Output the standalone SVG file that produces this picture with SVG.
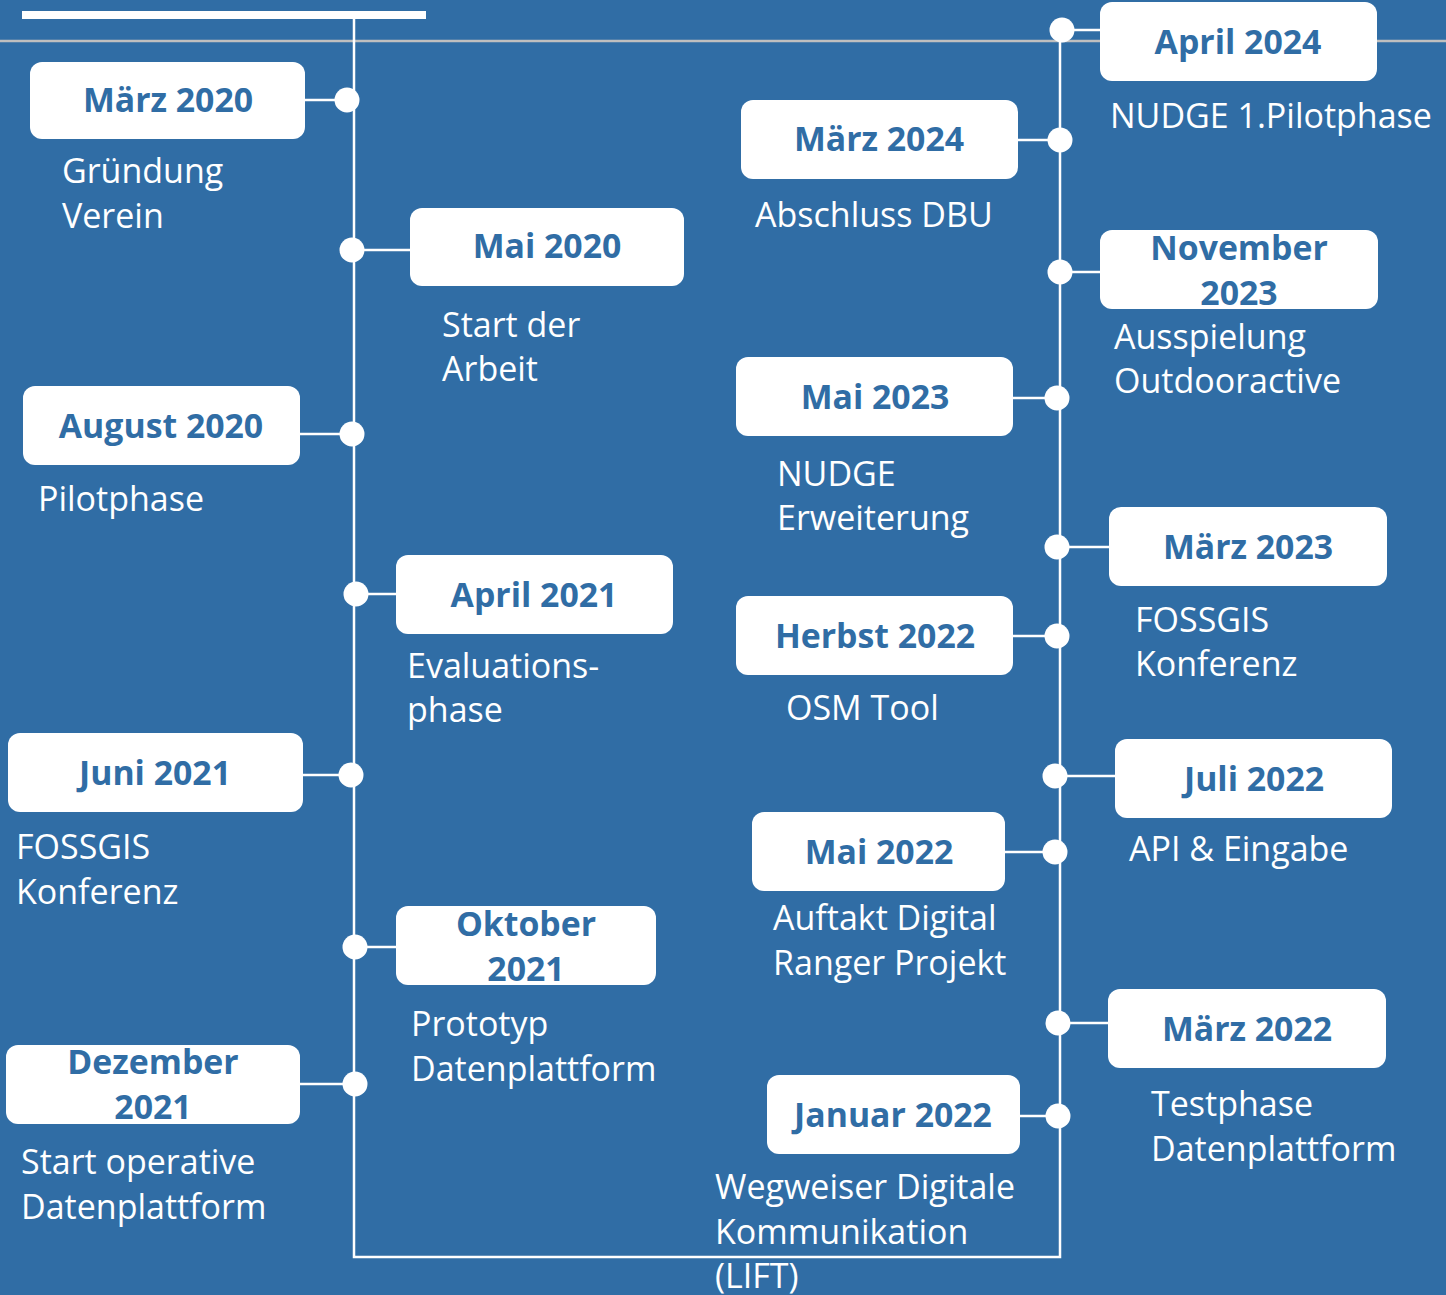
<svg xmlns="http://www.w3.org/2000/svg" width="1446" height="1295" viewBox="0 0 1446 1295">
<style>
.bg{fill:#306DA5}
.box{fill:#FFFFFF}
.bt{font-family:"Open Sans","Liberation Sans",sans-serif;font-weight:bold;font-size:33.8px;fill:#306DA5;text-anchor:middle}
.lb{font-family:"Open Sans","Liberation Sans",sans-serif;font-size:34px;fill:#FFFFFF}
.ln{stroke:#FFFFFF;stroke-width:2.5;fill:none}
.dot{fill:#FFFFFF}
</style>
<rect class="bg" x="0" y="0" width="1446" height="1295"/>
<line x1="0" y1="41" x2="1446" y2="41" stroke="#BFBFBF" stroke-width="2.5"/>
<rect x="22" y="11" width="404" height="8" fill="#FFFFFF"/>
<g id="connectors">
<path class="ln" d="M354 19 V1257 H1060 V30"/>
<line class="ln" x1="305" y1="100" x2="347" y2="100"/>
<line class="ln" x1="352" y1="250" x2="410" y2="250"/>
<line class="ln" x1="300" y1="434" x2="352" y2="434"/>
<line class="ln" x1="356" y1="594" x2="396" y2="594"/>
<line class="ln" x1="303" y1="775" x2="351" y2="775"/>
<line class="ln" x1="355" y1="947" x2="396" y2="947"/>
<line class="ln" x1="300" y1="1084" x2="355" y2="1084"/>
<line class="ln" x1="1062" y1="30" x2="1100" y2="30"/>
<line class="ln" x1="1018" y1="140" x2="1060" y2="140"/>
<line class="ln" x1="1060" y1="272" x2="1100" y2="272"/>
<line class="ln" x1="1013" y1="398" x2="1057" y2="398"/>
<line class="ln" x1="1057" y1="547" x2="1109" y2="547"/>
<line class="ln" x1="1013" y1="636" x2="1057" y2="636"/>
<line class="ln" x1="1055" y1="776" x2="1115" y2="776"/>
<line class="ln" x1="1005" y1="852" x2="1055" y2="852"/>
<line class="ln" x1="1058" y1="1023" x2="1108" y2="1023"/>
<line class="ln" x1="1020" y1="1116" x2="1058" y2="1116"/>
<circle class="dot" cx="347" cy="100" r="12.5"/>
<circle class="dot" cx="352" cy="250" r="12.5"/>
<circle class="dot" cx="352" cy="434" r="12.5"/>
<circle class="dot" cx="356" cy="594" r="12.5"/>
<circle class="dot" cx="351" cy="775" r="12.5"/>
<circle class="dot" cx="355" cy="947" r="12.5"/>
<circle class="dot" cx="355" cy="1084" r="12.5"/>
<circle class="dot" cx="1062" cy="30" r="12.5"/>
<circle class="dot" cx="1060" cy="140" r="12.5"/>
<circle class="dot" cx="1060" cy="272" r="12.5"/>
<circle class="dot" cx="1057" cy="398" r="12.5"/>
<circle class="dot" cx="1057" cy="547" r="12.5"/>
<circle class="dot" cx="1057" cy="636" r="12.5"/>
<circle class="dot" cx="1055" cy="776" r="12.5"/>
<circle class="dot" cx="1055" cy="852" r="12.5"/>
<circle class="dot" cx="1058" cy="1023" r="12.5"/>
<circle class="dot" cx="1058" cy="1116" r="12.5"/>
</g>
<g id="n-maerz2020"><rect class="box" x="30" y="62" width="275" height="77" rx="12"/><text class="bt" x="168" y="112">März 2020</text>
<text class="lb" x="62" y="183">Gründung</text><text class="lb" x="62" y="228">Verein</text></g>
<g id="n-mai2020"><rect class="box" x="410" y="208" width="274" height="78" rx="12"/><text class="bt" x="547" y="258">Mai 2020</text>
<text class="lb" x="442" y="337">Start der</text><text class="lb" x="442" y="381">Arbeit</text></g>
<g id="n-aug2020"><rect class="box" x="23" y="386" width="277" height="79" rx="12"/><text class="bt" x="161" y="438">August 2020</text>
<text class="lb" x="38" y="511">Pilotphase</text></g>
<g id="n-apr2021"><rect class="box" x="396" y="555" width="277" height="79" rx="12"/><text class="bt" x="534" y="607">April 2021</text>
<text class="lb" x="407" y="678">Evaluations-</text><text class="lb" x="407" y="722">phase</text></g>
<g id="n-jun2021"><rect class="box" x="8" y="733" width="295" height="79" rx="12"/><text class="bt" x="155" y="785">Juni 2021</text>
<text class="lb" x="16" y="859">FOSSGIS</text><text class="lb" x="16" y="904">Konferenz</text></g>
<g id="n-okt2021"><rect class="box" x="396" y="906" width="260" height="79" rx="12"/><text class="bt" x="526" y="936">Oktober</text><text class="bt" x="526" y="981">2021</text>
<text class="lb" x="411" y="1036">Prototyp</text><text class="lb" x="411" y="1081">Datenplattform</text></g>
<g id="n-dez2021"><rect class="box" x="6" y="1045" width="294" height="79" rx="12"/><text class="bt" x="153" y="1074">Dezember</text><text class="bt" x="153" y="1119">2021</text>
<text class="lb" x="21" y="1174">Start operative</text><text class="lb" x="21" y="1219">Datenplattform</text></g>
<g id="n-apr2024"><rect class="box" x="1100" y="2" width="277" height="79" rx="12"/><text class="bt" x="1238" y="54">April 2024</text>
<text class="lb" x="1110" y="128">NUDGE 1.Pilotphase</text></g>
<g id="n-maerz2024"><rect class="box" x="741" y="100" width="277" height="79" rx="12"/><text class="bt" x="879" y="151">März 2024</text>
<text class="lb" x="755" y="227">Abschluss DBU</text></g>
<g id="n-nov2023"><rect class="box" x="1100" y="230" width="278" height="79" rx="12"/><text class="bt" x="1239" y="260">November</text><text class="bt" x="1239" y="305">2023</text>
<text class="lb" x="1114" y="349">Ausspielung</text><text class="lb" x="1114" y="393">Outdooractive</text></g>
<g id="n-mai2023"><rect class="box" x="736" y="357" width="277" height="79" rx="12"/><text class="bt" x="875" y="409">Mai 2023</text>
<text class="lb" x="777" y="486">NUDGE</text><text class="lb" x="777" y="530">Erweiterung</text></g>
<g id="n-maerz2023"><rect class="box" x="1109" y="507" width="278" height="79" rx="12"/><text class="bt" x="1248" y="559">März 2023</text>
<text class="lb" x="1135" y="632">FOSSGIS</text><text class="lb" x="1135" y="676">Konferenz</text></g>
<g id="n-herbst2022"><rect class="box" x="736" y="596" width="277" height="79" rx="12"/><text class="bt" x="875" y="648">Herbst 2022</text>
<text class="lb" x="786" y="720">OSM Tool</text></g>
<g id="n-jul2022"><rect class="box" x="1115" y="739" width="277" height="79" rx="12"/><text class="bt" x="1254" y="791">Juli 2022</text>
<text class="lb" x="1129" y="861">API &amp; Eingabe</text></g>
<g id="n-mai2022"><rect class="box" x="752" y="812" width="253" height="79" rx="12"/><text class="bt" x="879" y="864">Mai 2022</text>
<text class="lb" x="773" y="930">Auftakt Digital</text><text class="lb" x="773" y="975">Ranger Projekt</text></g>
<g id="n-maerz2022"><rect class="box" x="1108" y="989" width="278" height="79" rx="12"/><text class="bt" x="1247" y="1041">März 2022</text>
<text class="lb" x="1151" y="1116">Testphase</text><text class="lb" x="1151" y="1161">Datenplattform</text></g>
<g id="n-jan2022"><rect class="box" x="767" y="1075" width="253" height="79" rx="12"/><text class="bt" x="893" y="1127">Januar 2022</text>
<text class="lb" x="715" y="1199">Wegweiser Digitale</text><text class="lb" x="715" y="1244">Kommunikation</text><text class="lb" x="715" y="1288">(LIFT)</text></g>
</svg>
